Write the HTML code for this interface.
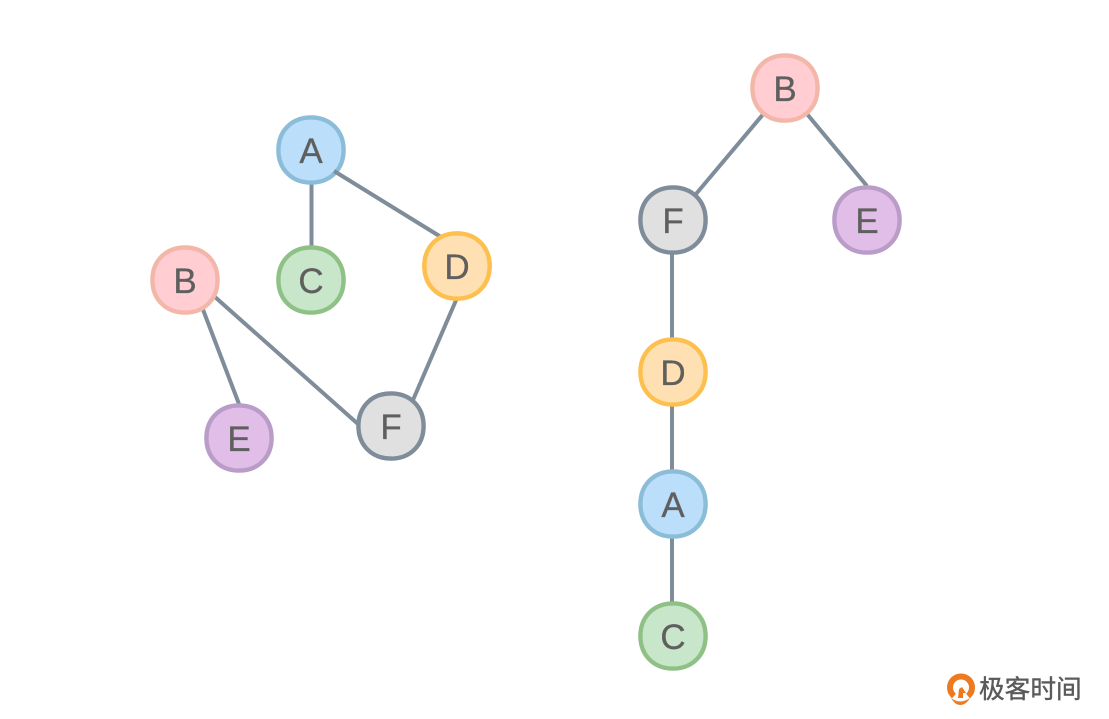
<!DOCTYPE html>
<html>
<head>
<meta charset="utf-8">
<style>
html,body{margin:0;padding:0;background:#fff;width:1109px;height:719px;overflow:hidden}
svg{display:block}
.n text{font-family:"Liberation Sans",sans-serif;font-size:35px;fill:#5f5f5f;text-anchor:middle;stroke:#5f5f5f;stroke-width:.3}
.l line{stroke:#7f8c99;stroke-width:4}
</style>
</head>
<body>
<svg width="1109" height="719" viewBox="0 0 1109 719" xmlns="http://www.w3.org/2000/svg">
<defs>
<path id="node" d="M0 -32.6 C19.2 -32.6 32.6 -19.2 32.6 0 C32.6 19.2 19.2 32.6 0 32.6 C-19.2 32.6 -32.6 19.2 -32.6 0 C-32.6 -19.2 -19.2 -32.6 0 -32.6 Z" stroke-width="4.4"/>
</defs>
<g class="l">
<line x1="311.5" y1="184" x2="311.5" y2="246"/>
<line x1="457" y1="298" x2="413" y2="400"/>
<line x1="215" y1="297" x2="358" y2="424"/>
<line x1="202" y1="307" x2="239" y2="404"/>
<line x1="765" y1="112" x2="696" y2="194"/>
<line x1="807" y1="114" x2="867" y2="186"/>
<line x1="672" y1="254" x2="672" y2="338"/>
<line x1="672" y1="406" x2="672" y2="470"/>
<line x1="672" y1="538" x2="672" y2="602"/>
</g>
<g class="n">
<g transform="translate(311,150)"><use href="#node" fill="#bbdefb" stroke="#8bbdd9"/><text y="13">A</text></g>
<g transform="translate(311,280)"><use href="#node" fill="#c8e6c9" stroke="#8fc187"/><text y="13">C</text></g>
<g transform="translate(457,266)"><use href="#node" fill="#ffe0b2" stroke="#fdc04f"/><text y="13">D</text></g>
<g transform="translate(185,280)"><use href="#node" fill="#ffcdd2" stroke="#f3b7aa"/><text y="13">B</text></g>
<g transform="translate(239,438)"><use href="#node" fill="#e1bee7" stroke="#b99cc7"/><text y="13">E</text></g>
<g transform="translate(391,426)"><use href="#node" fill="#e0e0e0" stroke="#7f8c99"/><text y="13">F</text></g>
<g transform="translate(785,88)"><use href="#node" fill="#ffcdd2" stroke="#f3b7aa"/><text y="13">B</text></g>
<g transform="translate(673,220)"><use href="#node" fill="#e0e0e0" stroke="#7f8c99"/><text y="13">F</text></g>
<g transform="translate(867,220)"><use href="#node" fill="#e1bee7" stroke="#b99cc7"/><text y="13">E</text></g>
<g transform="translate(673,372)"><use href="#node" fill="#ffe0b2" stroke="#fdc04f"/><text y="13">D</text></g>
<g transform="translate(673,504)"><use href="#node" fill="#bbdefb" stroke="#8bbdd9"/><text y="13">A</text></g>
<g transform="translate(673,636)"><use href="#node" fill="#c8e6c9" stroke="#8fc187"/><text y="13">C</text></g>
</g>
<g class="l"><line x1="334" y1="171" x2="441" y2="237"/></g>
<g transform="translate(457,266)"><use href="#node" fill="#ffe0b2" stroke="#fdc04f"/><text y="13" font-family="'Liberation Sans',sans-serif" font-size="35" fill="#5f5f5f" text-anchor="middle" stroke="#5f5f5f" stroke-width=".3">D</text></g>
<g>
<path d="M954 696 A11 11 0 1 1 968 696" fill="none" stroke="#ee7a1f" stroke-width="6"/>
<path d="M958 698 L959 689 L962 687 L966 693 L963 693 L963 698 Z" fill="#ee7a1f"/>
<path d="M951 698 Q960 705 970 698 Q966 705 960 705 Q955 705 951 698 Z" fill="#ee7a1f"/>
<text x="979" y="698" font-family="'Liberation Sans','Noto Sans CJK SC',sans-serif" font-size="25.7" font-weight="400" fill="#5a5a5a" stroke="#5a5a5a" stroke-width=".4">极客时间</text>
</g>
</svg>
</body>
</html>
